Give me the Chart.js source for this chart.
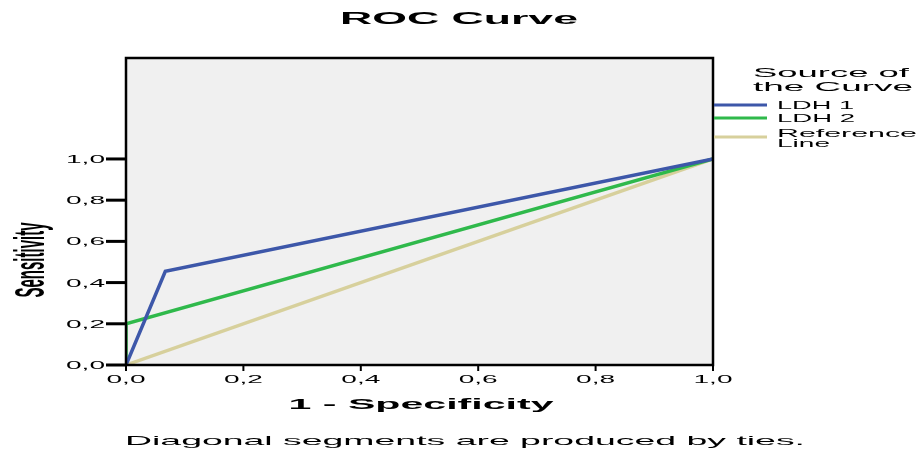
<!DOCTYPE html>
<html>
<head>
<meta charset="utf-8">
<script src="https://cdn.jsdelivr.net/npm/chart.js@4/dist/chart.umd.min.js"></script>
<style>
  html, body { margin: 0; padding: 0; background: #fff; }
  #wrap { width: 923px; height: 454px; }
</style>
</head>
<body>
<div id="wrap"><canvas id="roc"></canvas></div>
<script>
// ROC points (1 - specificity, sensitivity)
const ldh1X = [0, 0.067, 1];
const ldh1Y = [0, 0.455, 1];
const ldh2X = [0, 0, 1];
const ldh2Y = [0, 0.2, 1];
const refX = [0, 1];
const refY = [0, 1];

const tickValues = [0, 0.2, 0.4, 0.6, 0.8, 1.0];
const tickLabels = ['0,0', '0,2', '0,4', '0,6', '0,8', '1,0'];
const seriesNames = ['LDH 1', 'LDH 2', 'Reference Line'];

const FONT = '"Liberation Sans", Arial, sans-serif';

let pts = (xs, ys) => xs.map((x, i) => ({ x: x, y: ys[i] }));

// draw text squeezed/stretched to a given width (the original is scaled wide)
let fitText = (ctx, text, x, baseY, width, font, align) => {
    ctx.save();
    ctx.font = font;
    ctx.textBaseline = 'alphabetic';
    ctx.textAlign = 'left';
    const w = ctx.measureText(text).width;
    const sx = width / w;
    let left = x;
    if (align === 'center') left = x - width / 2;
    if (align === 'right') left = x - width;
    ctx.translate(left, baseY);
    ctx.scale(sx, 1);
    ctx.fillText(text, 0, 0);
    ctx.restore();
};

const rocDecor = {
    id: 'rocDecor',
    beforeDatasetsDraw(chart) {
        const { ctx, chartArea: a } = chart;
        ctx.save();
        ctx.fillStyle = '#f0f0f0';
        ctx.fillRect(a.left, a.top, a.right - a.left, a.bottom - a.top);
        ctx.restore();
    },
    afterDatasetsDraw(chart) {
        const { ctx, chartArea: a } = chart;
        const xs = chart.scales.x, ys = chart.scales.y;
        ctx.save();
        ctx.fillStyle = '#000';
        ctx.strokeStyle = '#000';

        // frame
        ctx.lineWidth = 2.5;
        ctx.strokeRect(a.left, a.top, a.right - a.left, a.bottom - a.top);

        // y ticks
        ctx.lineWidth = 3;
        tickValues.forEach((v, i) => {
            const py = ys.getPixelForValue(v);
            ctx.beginPath();
            ctx.moveTo(a.left - 20, py);
            ctx.lineTo(a.left, py);
            ctx.stroke();
            fitText(ctx, tickLabels[i], a.left - 21, py + 4, 39, '11px ' + FONT, 'right');
        });

        // x ticks
        ctx.lineWidth = 2;
        tickValues.forEach((v, i) => {
            const px = xs.getPixelForValue(v);
            ctx.beginPath();
            ctx.moveTo(px, a.bottom);
            ctx.lineTo(px, a.bottom + 6);
            ctx.stroke();
            fitText(ctx, tickLabels[i], px, 383, 39, '11px ' + FONT, 'center');
        });

        // titles
        fitText(ctx, 'ROC Curve', 459, 24, 238, 'bold 16px ' + FONT, 'center');
        fitText(ctx, '1 - Specificity', 421, 409, 265, 'bold 15px ' + FONT, 'center');
        fitText(ctx, 'Diagonal segments are produced by ties.', 465, 445, 680, '13px ' + FONT, 'center');

        // y title, rotated
        ctx.save();
        ctx.font = 'bold 42px ' + FONT;
        const w = ctx.measureText('Sensitivity').width;
        ctx.translate(44, 260);
        ctx.rotate(-Math.PI / 2);
        ctx.scale(75 / w, 1);
        ctx.textAlign = 'center';
        ctx.textBaseline = 'alphabetic';
        ctx.fillText('Sensitivity', 0, 0);
        ctx.restore();

        // legend
        fitText(ctx, 'Source of', 753, 77, 156, '13px ' + FONT, 'left');
        fitText(ctx, 'the Curve', 753, 91, 160, '13px ' + FONT, 'left');
        const rows = [105, 118, 137];
        chart.data.datasets.forEach((ds, i) => {
            ctx.strokeStyle = ds.borderColor;
            ctx.lineWidth = 3;
            ctx.beginPath();
            ctx.moveTo(a.right + 1, rows[i]);
            ctx.lineTo(767, rows[i]);
            ctx.stroke();
        });
        fitText(ctx, 'LDH 1', 777, 109, 77, '11px ' + FONT, 'left');
        fitText(ctx, 'LDH 2', 777, 122, 78, '11px ' + FONT, 'left');
        fitText(ctx, 'Reference', 777, 137, 140, '11px ' + FONT, 'left');
        fitText(ctx, 'Line', 777, 147, 53, '11px ' + FONT, 'left');

        ctx.restore();
    }
};

const dataset = {
    datasets: [
        { label: seriesNames[0], data: pts(ldh1X, ldh1Y), borderColor: '#3d57a9', borderWidth: 3.5 },
        { label: seriesNames[1], data: pts(ldh2X, ldh2Y), borderColor: '#2fb94b', borderWidth: 3.5 },
        { label: seriesNames[2], data: pts(refX, refY), borderColor: '#d7d09c', borderWidth: 3.5 }
    ]
};

const config = {
    type: 'line',
    data: dataset,
    options: {
        responsive: true,
        maintainAspectRatio: false,
        animation: false,
        layout: { padding: { left: 126, top: 58, right: 210, bottom: 89 } },
        elements: { point: { radius: 0 }, line: { tension: 0, fill: false } },
        plugins: { legend: { display: false }, title: { display: false }, tooltip: { enabled: false } },
        scales: {
            x: { type: 'linear', min: 0, max: 1, display: false },
            y: { type: 'linear', min: 0, max: 1.49, display: false }
        }
    },
    plugins: [rocDecor]
};

const chart = new Chart(document.getElementById('roc'), config);
</script>
</body>
</html>
